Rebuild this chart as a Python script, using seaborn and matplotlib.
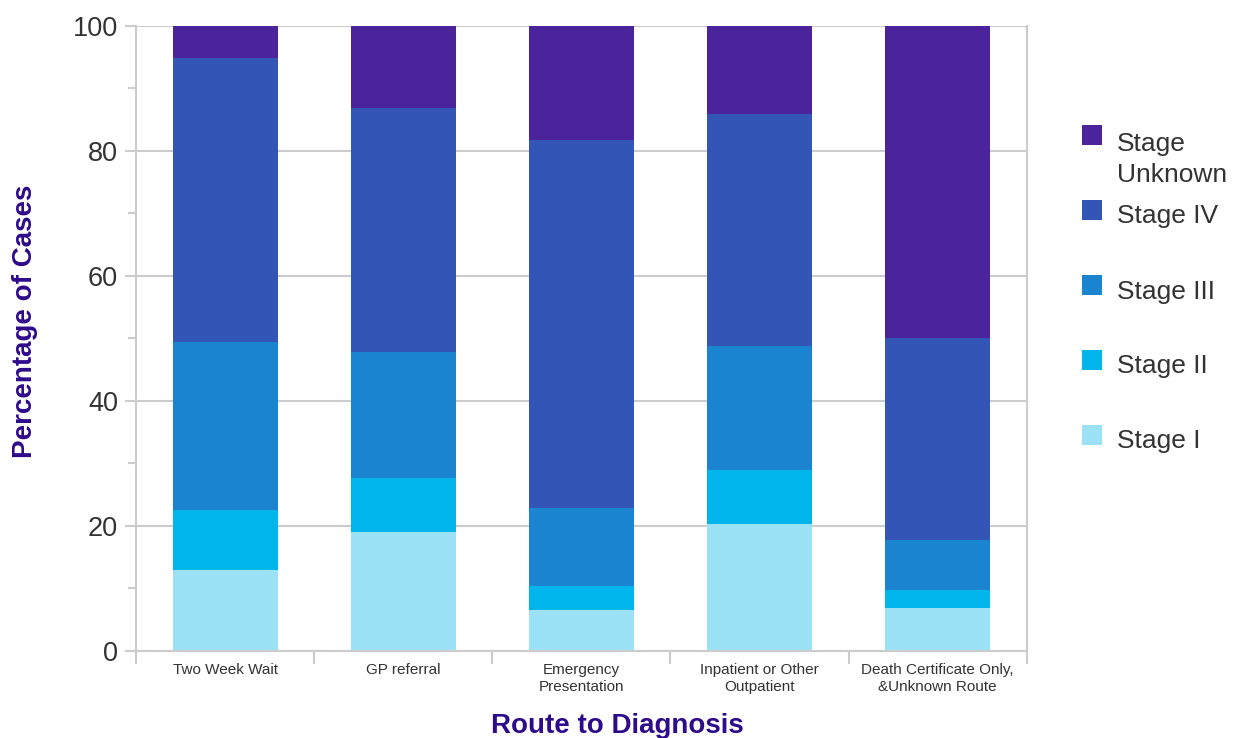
import matplotlib
matplotlib.use("Agg")
import matplotlib.pyplot as plt
import seaborn as sns
import pandas as pd
from matplotlib.patches import Rectangle
from matplotlib.ticker import MultipleLocator, FixedLocator

routes = ["Two Week Wait", "GP referral", "Emergency\nPresentation",
          "Inpatient or Other\nOutpatient", "Death Certificate Only,\n&Unknown Route"]
stages = ["Stage I", "Stage II", "Stage III", "Stage IV", "Stage Unknown"]
legend_labels = ["Stage I", "Stage II", "Stage III", "Stage IV", "Stage\nUnknown"]

# percentage of cases in each stage, per route
stage_1 = [13.0, 19.0, 6.6, 20.3, 6.9]
stage_2 = [9.6, 8.7, 3.8, 8.7, 2.9]
stage_3 = [26.8, 20.1, 12.5, 19.8, 8.0]
stage_4 = [45.5, 39.1, 58.9, 37.1, 32.3]
stage_unknown = [5.1, 13.1, 18.2, 14.1, 49.9]

colors = ["#9ce2f7", "#00b5ec", "#1a84d0", "#3355b5", "#4b239b"]
purple = "#2e0a8c"
grey = "#cccccc"
text_grey = "#333333"

df = pd.DataFrame({"route": routes, "Stage I": stage_1, "Stage II": stage_2,
                   "Stage III": stage_3, "Stage IV": stage_4,
                   "Stage Unknown": stage_unknown})
cum = df[stages].cumsum(axis=1)
cum["route"] = df["route"]

sns.set_style("white")
plt.rcParams['font.family'] = ['Liberation Sans', 'DejaVu Sans']

W, H = 1237, 738
fig = plt.figure(figsize=(W / 100, H / 100), dpi=100)
ax = fig.add_axes([0.110, 0.118, 0.720, 0.847])

# draw tallest (cumulative) first so lower stages overlay it
for stage, col in reversed(list(zip(stages, colors))):
    sns.barplot(data=cum, x="route", y=stage, order=routes, color=col,
                saturation=1, width=0.59, errorbar=None, linewidth=0, ax=ax)

ax.set_ylim(0, 100)
ax.set_xlim(-0.5, len(routes) - 0.5)
ax.yaxis.set_major_locator(MultipleLocator(20))
ax.yaxis.set_minor_locator(MultipleLocator(10))
ax.grid(axis="y", which="major", color=grey, linewidth=1.5, zorder=0)
ax.set_axisbelow(True)

ax.xaxis.set_minor_locator(FixedLocator([i - 0.5 for i in range(len(routes) + 1)]))
ax.tick_params(axis="x", which="major", length=0, labelsize=11, labelcolor=text_grey, pad=9)
ax.tick_params(axis="x", which="minor", length=9, width=1.5, color=grey)
ax.tick_params(axis="y", which="major", length=8, width=1.5, color=grey,
               labelsize=19.5, labelcolor=text_grey, pad=5)
ax.tick_params(axis="y", which="minor", length=5.5, width=1.5, color=grey)
ax.yaxis.set_ticks_position("left")
ax.xaxis.set_ticks_position("bottom")

for side in ["left", "right", "bottom"]:
    ax.spines[side].set_color(grey)
    ax.spines[side].set_linewidth(1.5)
ax.spines["top"].set_visible(False)

ax.set_xlabel("Route to Diagnosis", fontsize=20, fontweight="bold", color=purple)
ax.set_ylabel("Percentage of Cases", fontsize=20, fontweight="bold", color=purple)
ax.xaxis.set_label_coords(0.54, -0.1)
ax.yaxis.set_label_coords(-0.110, 0.528)

# legend: square swatch next to each label, top entry first
for i, (lab, col) in enumerate(zip(legend_labels[::-1], colors[::-1])):
    yc = 135 + 75 * i
    fig.add_artist(Rectangle((1082 / W, 1 - (yc + 10) / H), 20 / W, 20 / H,
                             transform=fig.transFigure, facecolor=col,
                             edgecolor="none"))
    # baseline of a multi-line text is its last line
    base = yc + 13.5 + 33 * lab.count("\n")
    fig.text(1117 / W, 1 - base / H, lab, fontsize=19, color=text_grey,
             ha="left", va="baseline", linespacing=1.35)

fig.savefig("out.png", dpi=100)
